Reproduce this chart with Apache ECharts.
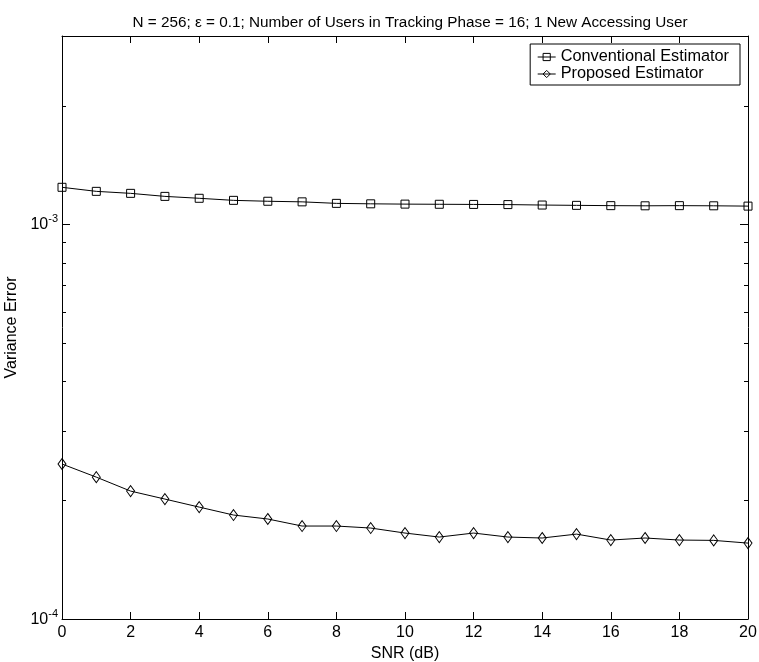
<!DOCTYPE html>
<html><head><meta charset="utf-8">
<script src="https://cdn.jsdelivr.net/npm/echarts@6/dist/echarts.min.js"></script>
<style>html,body{margin:0;padding:0;background:#fff}#c{width:759px;height:662px}</style>
</head><body><div id="c"></div>
<script>
const snr = [0,1,2,3,4,5,6,7,8,9,10,11,12,13,14,15,16,17,18,19,20];
const conventional = [1.241e-3,1.212e-3,1.198e-3,1.177e-3,1.164e-3,1.150e-3,1.144e-3,1.140e-3,1.130e-3,1.127e-3,1.125e-3,1.124e-3,1.123e-3,1.122e-3,1.119e-3,1.117e-3,1.115e-3,1.114e-3,1.115e-3,1.114e-3,1.112e-3];
const proposed = [2.47e-4,2.288e-4,2.109e-4,2.013e-4,1.921e-4,1.834e-4,1.792e-4,1.720e-4,1.720e-4,1.700e-4,1.651e-4,1.613e-4,1.651e-4,1.613e-4,1.604e-4,1.641e-4,1.585e-4,1.604e-4,1.585e-4,1.582e-4,1.557e-4];
const xMin = 0, xMax = 20, xStep = 2;
const yMin = 1e-4, yMax = 3e-3;
const yMajorTicks = [1e-4, 1e-3];
const yMinorTicks = [2e-4,3e-4,4e-4,5e-4,6e-4,7e-4,8e-4,9e-4,2e-3,3e-3];
const titleText = 'N = 256; \u03b5 = 0.1; Number of Users in Tracking Phase = 16; 1 New Accessing User';
const seriesNames = ['Conventional Estimator', 'Proposed Estimator'];

const FONT = 'Liberation Sans, Arial, Helvetica, sans-serif';
const chart = echarts.init(document.getElementById('c'), null, {renderer: 'canvas'});

const tickData = yMajorTicks.map(v => [v, 8]).concat(yMinorTicks.map(v => [v, 4]));

function tickRender(params, api) {
  const v = api.value(0), len = api.value(1);
  const pl = api.coord([xMin, v]);
  const pr = api.coord([xMax, v]);
  const st = {stroke: '#000', lineWidth: 1};
  return {type: 'group', children: [
    {type: 'line', shape: {x1: pl[0], y1: Math.round(pl[1]) + 0.5, x2: pl[0] + len, y2: Math.round(pl[1]) + 0.5}, style: st},
    {type: 'line', shape: {x1: pr[0], y1: Math.round(pr[1]) + 0.5, x2: pr[0] - len, y2: Math.round(pr[1]) + 0.5}, style: st}
  ]};
}

function yLabel(value) {
  const l = Math.log10(value);
  const e = Math.round(l);
  if (Math.abs(l - e) > 1e-6) return '';
  return '{b|10}{s|' + e + '}';
}

const option = {
  backgroundColor: '#fff',
  animation: false,
  title: {
    text: titleText, left: 405, top: 10, textAlign: 'center',
    textStyle: {fontFamily: FONT, fontSize: 15.3, fontWeight: 'normal', color: '#000'}
  },
  legend: {
    data: seriesNames, orient: 'vertical', right: 19, top: 44,
    backgroundColor: '#fff', borderColor: '#000', borderWidth: 1, borderRadius: 0,
    padding: [5, 11, 3, 7], itemGap: 1, itemWidth: 18, itemHeight: 9,
    lineStyle: {width: 1, color: '#000'},
    itemStyle: {borderWidth: 1, borderColor: '#000', color: 'rgba(255,255,255,0)'},
    textStyle: {fontFamily: FONT, fontSize: 16.3, color: '#000'}
  },
  grid: {left: 62, right: 11, top: 36, bottom: 43, outerBoundsMode: 'none'},
  xAxis: [{
    type: 'value', min: xMin, max: xMax, interval: xStep, position: 'bottom',
    name: 'SNR (dB)', nameLocation: 'middle', nameGap: 24,
    nameTextStyle: {fontFamily: FONT, fontSize: 16, color: '#000'},
    axisLine: {show: true, onZero: false, lineStyle: {color: '#000', width: 1}},
    axisTick: {show: true, inside: true, length: 7, lineStyle: {color: '#000'}},
    axisLabel: {fontFamily: FONT, fontSize: 16, color: '#000', margin: 6},
    splitLine: {show: false}
  }, {
    type: 'value', min: xMin, max: xMax, interval: xStep, position: 'top',
    axisLine: {show: true, onZero: false, lineStyle: {color: '#000', width: 1}},
    axisTick: {show: true, inside: true, length: 7, lineStyle: {color: '#000'}},
    axisLabel: {show: false}, splitLine: {show: false}
  }],
  yAxis: [{
    type: 'log', logBase: 10, min: yMin, max: yMax, position: 'left',
    name: 'Variance Error', nameLocation: 'middle', nameGap: 34, nameRotate: 90,
    nameTextStyle: {fontFamily: FONT, fontSize: 16, color: '#000'},
    axisLine: {show: true, onZero: false, lineStyle: {color: '#000', width: 1}},
    axisTick: {show: false},
    axisLabel: {
      formatter: yLabel, margin: 4, showMinLabel: true, showMaxLabel: true,
      rich: {
        b: {fontFamily: FONT, fontSize: 16, color: '#000', verticalAlign: 'bottom', padding: [0, 0, 2, 0]},
        s: {fontFamily: FONT, fontSize: 11, color: '#000', verticalAlign: 'bottom', padding: [0, 0, 10, 0]}
      }
    },
    splitLine: {show: false}, minorTick: {show: false}
  }, {
    type: 'log', logBase: 10, min: yMin, max: yMax, position: 'right',
    axisLine: {show: true, onZero: false, lineStyle: {color: '#000', width: 1}},
    axisTick: {show: false}, axisLabel: {show: false}, splitLine: {show: false}
  }],
  series: [{
    name: seriesNames[0], type: 'line', xAxisIndex: 0, yAxisIndex: 0,
    data: snr.map((x, i) => [x, conventional[i]]),
    symbol: 'rect', symbolSize: 8, showAllSymbol: true,
    lineStyle: {color: '#000', width: 1},
    itemStyle: {color: 'rgba(255,255,255,0)', borderColor: '#000', borderWidth: 1},
    emphasis: {disabled: true}, z: 3
  }, {
    name: seriesNames[1], type: 'line', xAxisIndex: 0, yAxisIndex: 0,
    data: snr.map((x, i) => [x, proposed[i]]),
    symbol: 'diamond', symbolSize: [8, 11], showAllSymbol: true,
    lineStyle: {color: '#000', width: 1},
    itemStyle: {color: 'rgba(255,255,255,0)', borderColor: '#000', borderWidth: 1},
    emphasis: {disabled: true}, z: 3
  }, {
    type: 'custom', xAxisIndex: 0, yAxisIndex: 0, renderItem: tickRender,
    data: tickData, encode: {x: -1, y: 0}, clip: false, silent: true, z: 4
  }]
};
chart.setOption(option);
</script>
</body></html>
